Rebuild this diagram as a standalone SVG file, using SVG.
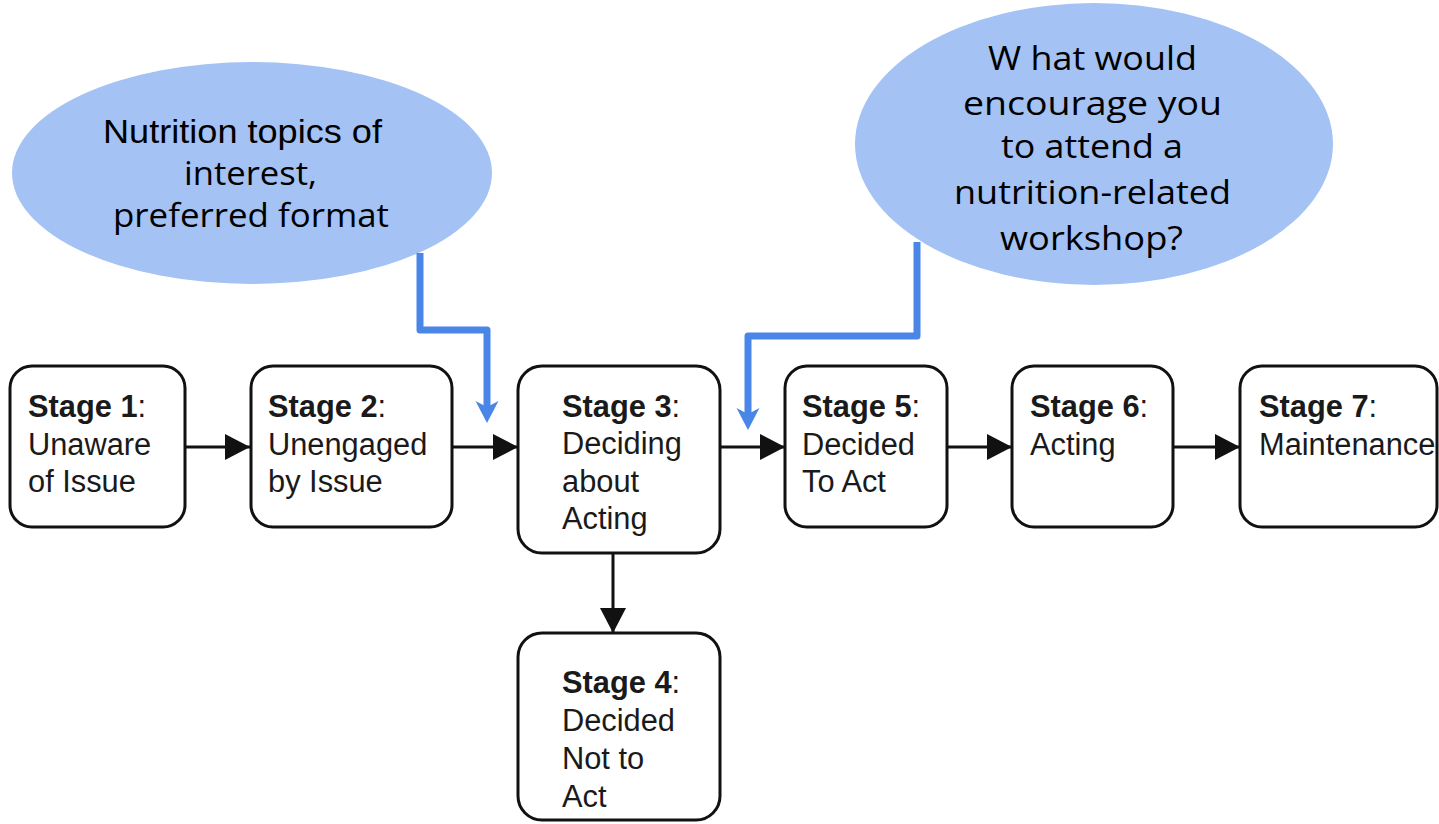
<svg xmlns="http://www.w3.org/2000/svg" width="1439" height="824" viewBox="0 0 1439 824">
<style>
.box{fill:#fff;stroke:#111;stroke-width:3}
.t{font-family:"Liberation Sans",Arial,sans-serif;font-size:30.8px;fill:#1a1a1a}
.b{font-weight:bold}
.bub{fill:#a4c2f4}
.bt{font-family:"Open Sans","Noto Sans",sans-serif;font-size:33px;fill:#000}
.bt1{font-family:"Liberation Sans",Arial,sans-serif;font-size:33px;fill:#000}
.conn{fill:none;stroke:#111;stroke-width:3}
.bconn{fill:none;stroke:#4a86e8;stroke-width:7;stroke-linejoin:round}
</style>
<defs>
<marker id="ah" markerUnits="userSpaceOnUse" markerWidth="25" markerHeight="26" refX="25" refY="13" orient="auto">
<path d="M0,0 L25,13 L0,26 z" fill="#111"/>
</marker>
<marker id="bh" markerUnits="userSpaceOnUse" markerWidth="23" markerHeight="24" refX="8" refY="12" orient="auto">
<path d="M0,0.5 L22,12 L0,23.5 L6,12 z" fill="#4a86e8"/>
</marker>
</defs>

<g id="bubble1">
<ellipse class="bub" cx="252" cy="173" rx="240" ry="111"/>
<text class="bt1" x="103" y="143" textLength="279" lengthAdjust="spacingAndGlyphs">Nutrition topics of</text>
<text class="bt" x="184" y="185" textLength="133" lengthAdjust="spacingAndGlyphs">interest,</text>
<text class="bt" x="113" y="227" textLength="276" lengthAdjust="spacingAndGlyphs">preferred format</text>
</g>

<g id="bubble2">
<ellipse class="bub" cx="1094" cy="144" rx="239" ry="141"/>
<text class="bt" x="988" y="70" textLength="209" lengthAdjust="spacingAndGlyphs">W hat would</text>
<text class="bt" x="963" y="115" textLength="259" lengthAdjust="spacingAndGlyphs">encourage you</text>
<text class="bt" x="1001" y="158" textLength="182" lengthAdjust="spacingAndGlyphs">to attend a</text>
<text class="bt" x="954" y="204" textLength="277" lengthAdjust="spacingAndGlyphs">nutrition-related</text>
<text class="bt" x="1000" y="250" textLength="183" lengthAdjust="spacingAndGlyphs">workshop?</text>
</g>

<g id="connectors">
<path class="conn" d="M185,447 H250" marker-end="url(#ah)"/>
<path class="conn" d="M452,447 H518" marker-end="url(#ah)"/>
<path class="conn" d="M720,447 H785" marker-end="url(#ah)"/>
<path class="conn" d="M947,447 H1012" marker-end="url(#ah)"/>
<path class="conn" d="M1173,447 H1240" marker-end="url(#ah)"/>
<path class="conn" d="M613,553 V633" marker-end="url(#ah)"/>
<path class="bconn" d="M420,253 V330 H487 V409" marker-end="url(#bh)"/>
<path class="bconn" d="M917,242 V336 H748 V416" marker-end="url(#bh)"/>
</g>

<g id="stage1">
<rect class="box" x="10" y="366" width="175" height="161" rx="22"/>
<text class="t" x="28" y="417"><tspan class="b">Stage 1</tspan>:</text>
<text class="t" x="28" y="455">Unaware</text>
<text class="t" x="28" y="492">of Issue</text>
</g>

<g id="stage2">
<rect class="box" x="251" y="366" width="201" height="161" rx="22"/>
<text class="t" x="268" y="417"><tspan class="b">Stage 2</tspan>:</text>
<text class="t" x="268" y="455">Unengaged</text>
<text class="t" x="268" y="492">by Issue</text>
</g>

<g id="stage3">
<rect class="box" x="518" y="366" width="202" height="187" rx="24"/>
<text class="t" x="562" y="417"><tspan class="b">Stage 3</tspan>:</text>
<text class="t" x="562" y="454">Deciding</text>
<text class="t" x="562" y="492">about</text>
<text class="t" x="562" y="529">Acting</text>
</g>

<g id="stage4">
<rect class="box" x="518" y="633" width="202" height="187" rx="24"/>
<text class="t" x="562" y="693"><tspan class="b">Stage 4</tspan>:</text>
<text class="t" x="562" y="731">Decided</text>
<text class="t" x="562" y="769">Not to</text>
<text class="t" x="562" y="807">Act</text>
</g>

<g id="stage5">
<rect class="box" x="785" y="366" width="162" height="161" rx="22"/>
<text class="t" x="802" y="417"><tspan class="b">Stage 5</tspan>:</text>
<text class="t" x="802" y="455">Decided</text>
<text class="t" x="802" y="492">To Act</text>
</g>

<g id="stage6">
<rect class="box" x="1012" y="366" width="161" height="161" rx="22"/>
<text class="t" x="1030" y="417"><tspan class="b">Stage 6</tspan>:</text>
<text class="t" x="1030" y="455">Acting</text>
</g>

<g id="stage7">
<rect class="box" x="1240" y="366" width="197" height="161" rx="22"/>
<text class="t" x="1259" y="417"><tspan class="b">Stage 7</tspan>:</text>
<text class="t" x="1259" y="455">Maintenance</text>
</g>
</svg>
